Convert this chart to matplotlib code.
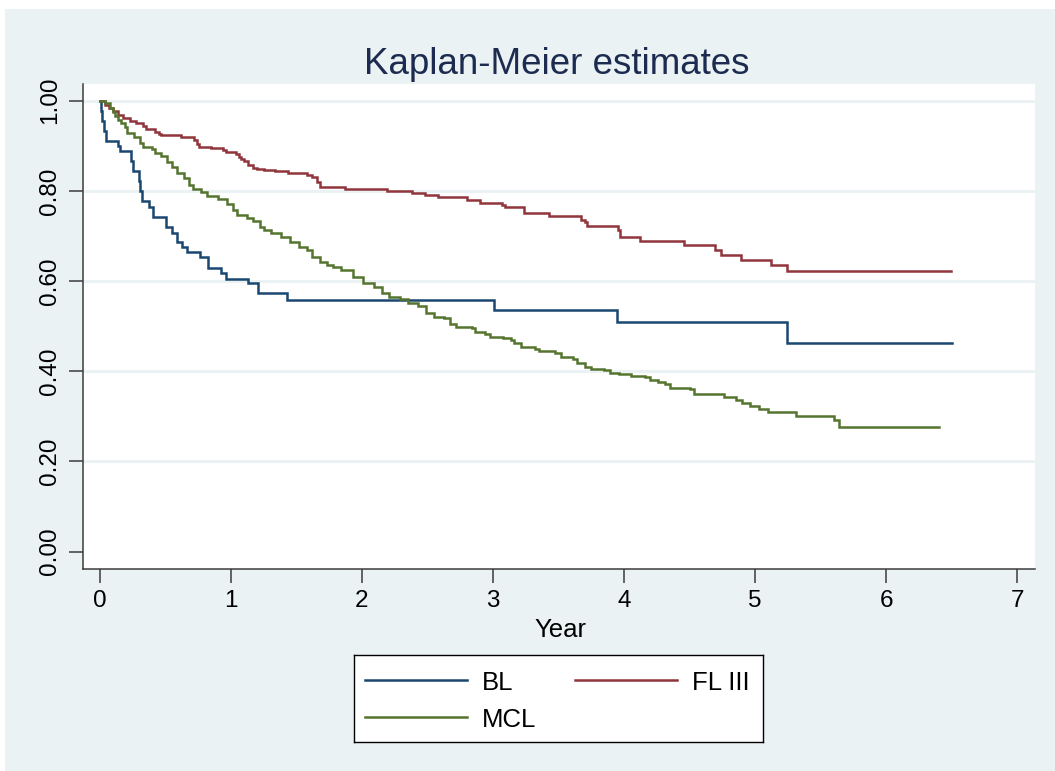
import matplotlib
matplotlib.use("Agg")
import matplotlib.pyplot as plt
from matplotlib.patches import Rectangle

plt.rcParams['font.family'] = ['Liberation Sans', 'DejaVu Sans']

# ---------------- data ----------------
title = "Kaplan-Meier estimates"
x_label = "Year"
groups = ["BL", "FL III", "MCL"]
colors = ["#1A476F", "#90353B", "#55752F"]

bl_time = [0.01, 0.02, 0.035, 0.05, 0.14, 0.155, 0.236, 0.256, 0.302, 0.31, 0.32,
           0.375, 0.405, 0.505, 0.55, 0.587, 0.63, 0.666, 0.762, 0.825, 0.928,
           0.96, 1.13, 1.205, 1.428, 3.008, 3.948, 5.24]
bl_surv = [0.978, 0.956, 0.933, 0.911, 0.900, 0.888, 0.866, 0.844, 0.822, 0.800, 0.778,
           0.765, 0.743, 0.721, 0.706, 0.687, 0.676, 0.664, 0.654, 0.628, 0.619,
           0.605, 0.595, 0.573, 0.558, 0.536, 0.509, 0.462]
bl_last = 6.50

fl_time = [0.04, 0.07, 0.10, 0.14, 0.18, 0.23, 0.28, 0.33, 0.35, 0.42, 0.45, 0.47,
           0.62, 0.72, 0.74, 0.76, 0.85, 0.94, 0.96, 1.04, 1.06, 1.08, 1.10, 1.13,
           1.17, 1.20, 1.25, 1.34, 1.44, 1.58, 1.62, 1.66, 1.68, 1.87, 2.19, 2.38,
           2.48, 2.58, 2.80, 2.90, 3.07, 3.09, 3.24, 3.43, 3.67, 3.70, 3.72, 3.95,
           3.97, 4.12, 4.46, 4.69, 4.74, 4.89, 5.12, 5.24]
fl_surv = [0.990, 0.984, 0.977, 0.969, 0.962, 0.956, 0.950, 0.944, 0.937, 0.931, 0.927, 0.924,
           0.920, 0.912, 0.905, 0.898, 0.894, 0.891, 0.887, 0.882, 0.876, 0.871, 0.866, 0.857,
           0.851, 0.848, 0.846, 0.843, 0.839, 0.835, 0.830, 0.820, 0.808, 0.804, 0.800, 0.796,
           0.791, 0.786, 0.780, 0.774, 0.768, 0.764, 0.750, 0.744, 0.735, 0.732, 0.722, 0.713,
           0.698, 0.689, 0.679, 0.669, 0.658, 0.647, 0.636, 0.623]
fl_last = 6.49

mcl_time = [0.04, 0.08, 0.10, 0.12, 0.14, 0.16, 0.19, 0.21, 0.26, 0.31, 0.33, 0.40,
            0.42, 0.47, 0.51, 0.55, 0.59, 0.64, 0.68, 0.71, 0.77, 0.82, 0.90, 0.97,
            1.02, 1.05, 1.12, 1.17, 1.22, 1.25, 1.31, 1.38, 1.45, 1.52, 1.58, 1.62,
            1.68, 1.73, 1.78, 1.84, 1.93, 2.01, 2.09, 2.15, 2.21, 2.29, 2.35, 2.43,
            2.49, 2.55, 2.63, 2.67, 2.72, 2.84, 2.86, 2.94, 2.98, 3.08, 3.14, 3.16,
            3.21, 3.32, 3.35, 3.47, 3.52, 3.61, 3.64, 3.70, 3.75, 3.85, 3.89, 3.96,
            4.05, 4.16, 4.20, 4.26, 4.31, 4.35, 4.50, 4.53, 4.76, 4.84, 4.85, 4.90,
            4.96, 5.03, 5.10, 5.31, 5.60, 5.64]
mcl_surv = [0.994, 0.983, 0.975, 0.965, 0.957, 0.950, 0.941, 0.929, 0.920, 0.906, 0.898, 0.892,
            0.883, 0.877, 0.865, 0.854, 0.840, 0.828, 0.813, 0.804, 0.797, 0.789, 0.783, 0.772,
            0.758, 0.746, 0.739, 0.734, 0.721, 0.713, 0.706, 0.697, 0.687, 0.676, 0.669, 0.654,
            0.643, 0.636, 0.631, 0.624, 0.610, 0.596, 0.586, 0.573, 0.564, 0.560, 0.552, 0.545,
            0.530, 0.521, 0.518, 0.505, 0.499, 0.495, 0.486, 0.483, 0.477, 0.474, 0.469, 0.463,
            0.453, 0.450, 0.446, 0.441, 0.431, 0.428, 0.418, 0.410, 0.404, 0.402, 0.397, 0.394,
            0.390, 0.388, 0.381, 0.377, 0.372, 0.362, 0.360, 0.350, 0.344, 0.342, 0.336, 0.330,
            0.323, 0.316, 0.310, 0.301, 0.292, 0.276]
mcl_last = 6.40

x_ticks = [0, 1, 2, 3, 4, 5, 6, 7]
x_ticklabels = ["0", "1", "2", "3", "4", "5", "6", "7"]
y_ticks = [0.0, 0.2, 0.4, 0.6, 0.8, 1.0]
y_ticklabels = ["0.00", "0.20", "0.40", "0.60", "0.80", "1.00"]
grid_levels = [0.2, 0.4, 0.6, 0.8, 1.0]

series = [(bl_time, bl_surv, bl_last), (fl_time, fl_surv, fl_last), (mcl_time, mcl_surv, mcl_last)]

# ---------------- figure ----------------
W, H = 1055, 771
BG = "#EAF2F3"
AXC = "#3C3C3C"
fig = plt.figure(figsize=(W / 100, H / 100), dpi=100, facecolor="white")
fig.patches.append(Rectangle((5 / W, 0), 1 - 5 / W, 1 - 9 / H, transform=fig.transFigure,
                             facecolor=BG, edgecolor="none", zorder=-10))

ax = fig.add_axes([83 / W, 1 - 569 / H, (1034.7 - 83) / W, (569 - 84) / H])
ax.set_zorder(2)
ax.set_facecolor("white")
ax.set_xlim(-0.1274, 7.132)
ax.set_ylim(-0.0384, 1.037)
for s in ["top", "right"]:
    ax.spines[s].set_visible(False)
for s in ["left", "bottom"]:
    ax.spines[s].set_color(AXC)
    ax.spines[s].set_linewidth(1.1)

for g in grid_levels:
    ax.axhline(g, color=BG, lw=2.2, zorder=1)

lw = 1.8
for (t, s, last), c in zip(series, colors):
    tt = [0.0] + list(t) + [last]
    ss = [1.0] + list(s) + [s[-1]]
    ax.step(tt, ss, where="post", color=c, lw=lw, zorder=3, solid_joinstyle="miter")

ax.set_xticks(x_ticks)
ax.set_xticklabels(x_ticklabels)
ax.set_yticks(y_ticks)
ax.set_yticklabels(y_ticklabels, rotation=90, va="center")
ax.tick_params(axis="both", direction="out", length=10, width=1.1, color=AXC,
               labelsize=17.5, labelcolor="black")
ax.tick_params(axis="x", pad=5)
ax.tick_params(axis="y", pad=6)

fig.text(557 / W, 1 - 74 / H, title, ha="center", va="baseline", fontsize=26.5, color="#1C2B4F")
fig.text(560 / W, 1 - 637 / H, x_label, ha="center", va="baseline", fontsize=18.5, color="black")

# ---------------- legend ----------------
lx0, ly0, lx1, ly1 = 354, 655, 763.3, 742
lax = fig.add_axes([lx0 / W, 1 - ly1 / H, (lx1 - lx0) / W, (ly1 - ly0) / H])
lax.set_zorder(2)
lax.set_facecolor("white")
lax.set_xlim(0, lx1 - lx0)
lax.set_ylim(ly1 - ly0, 0)
lax.set_xticks([])
lax.set_yticks([])
for s in lax.spines.values():
    s.set_color("black")
    s.set_linewidth(1.0)

entries = [(11, 25, 35), (221, 25, 35), (11, 62.3, 72.3)]
for (x0, yl, yb), lab, c in zip(entries, groups, colors):
    lax.plot([x0, x0 + 101.7], [yl, yl], color=c, lw=lw)
    lax.text(x0 + 116.7, yb, lab, ha="left", va="baseline", fontsize=18.5, color="black")

fig.savefig("out.png", dpi=100, facecolor=fig.get_facecolor())
